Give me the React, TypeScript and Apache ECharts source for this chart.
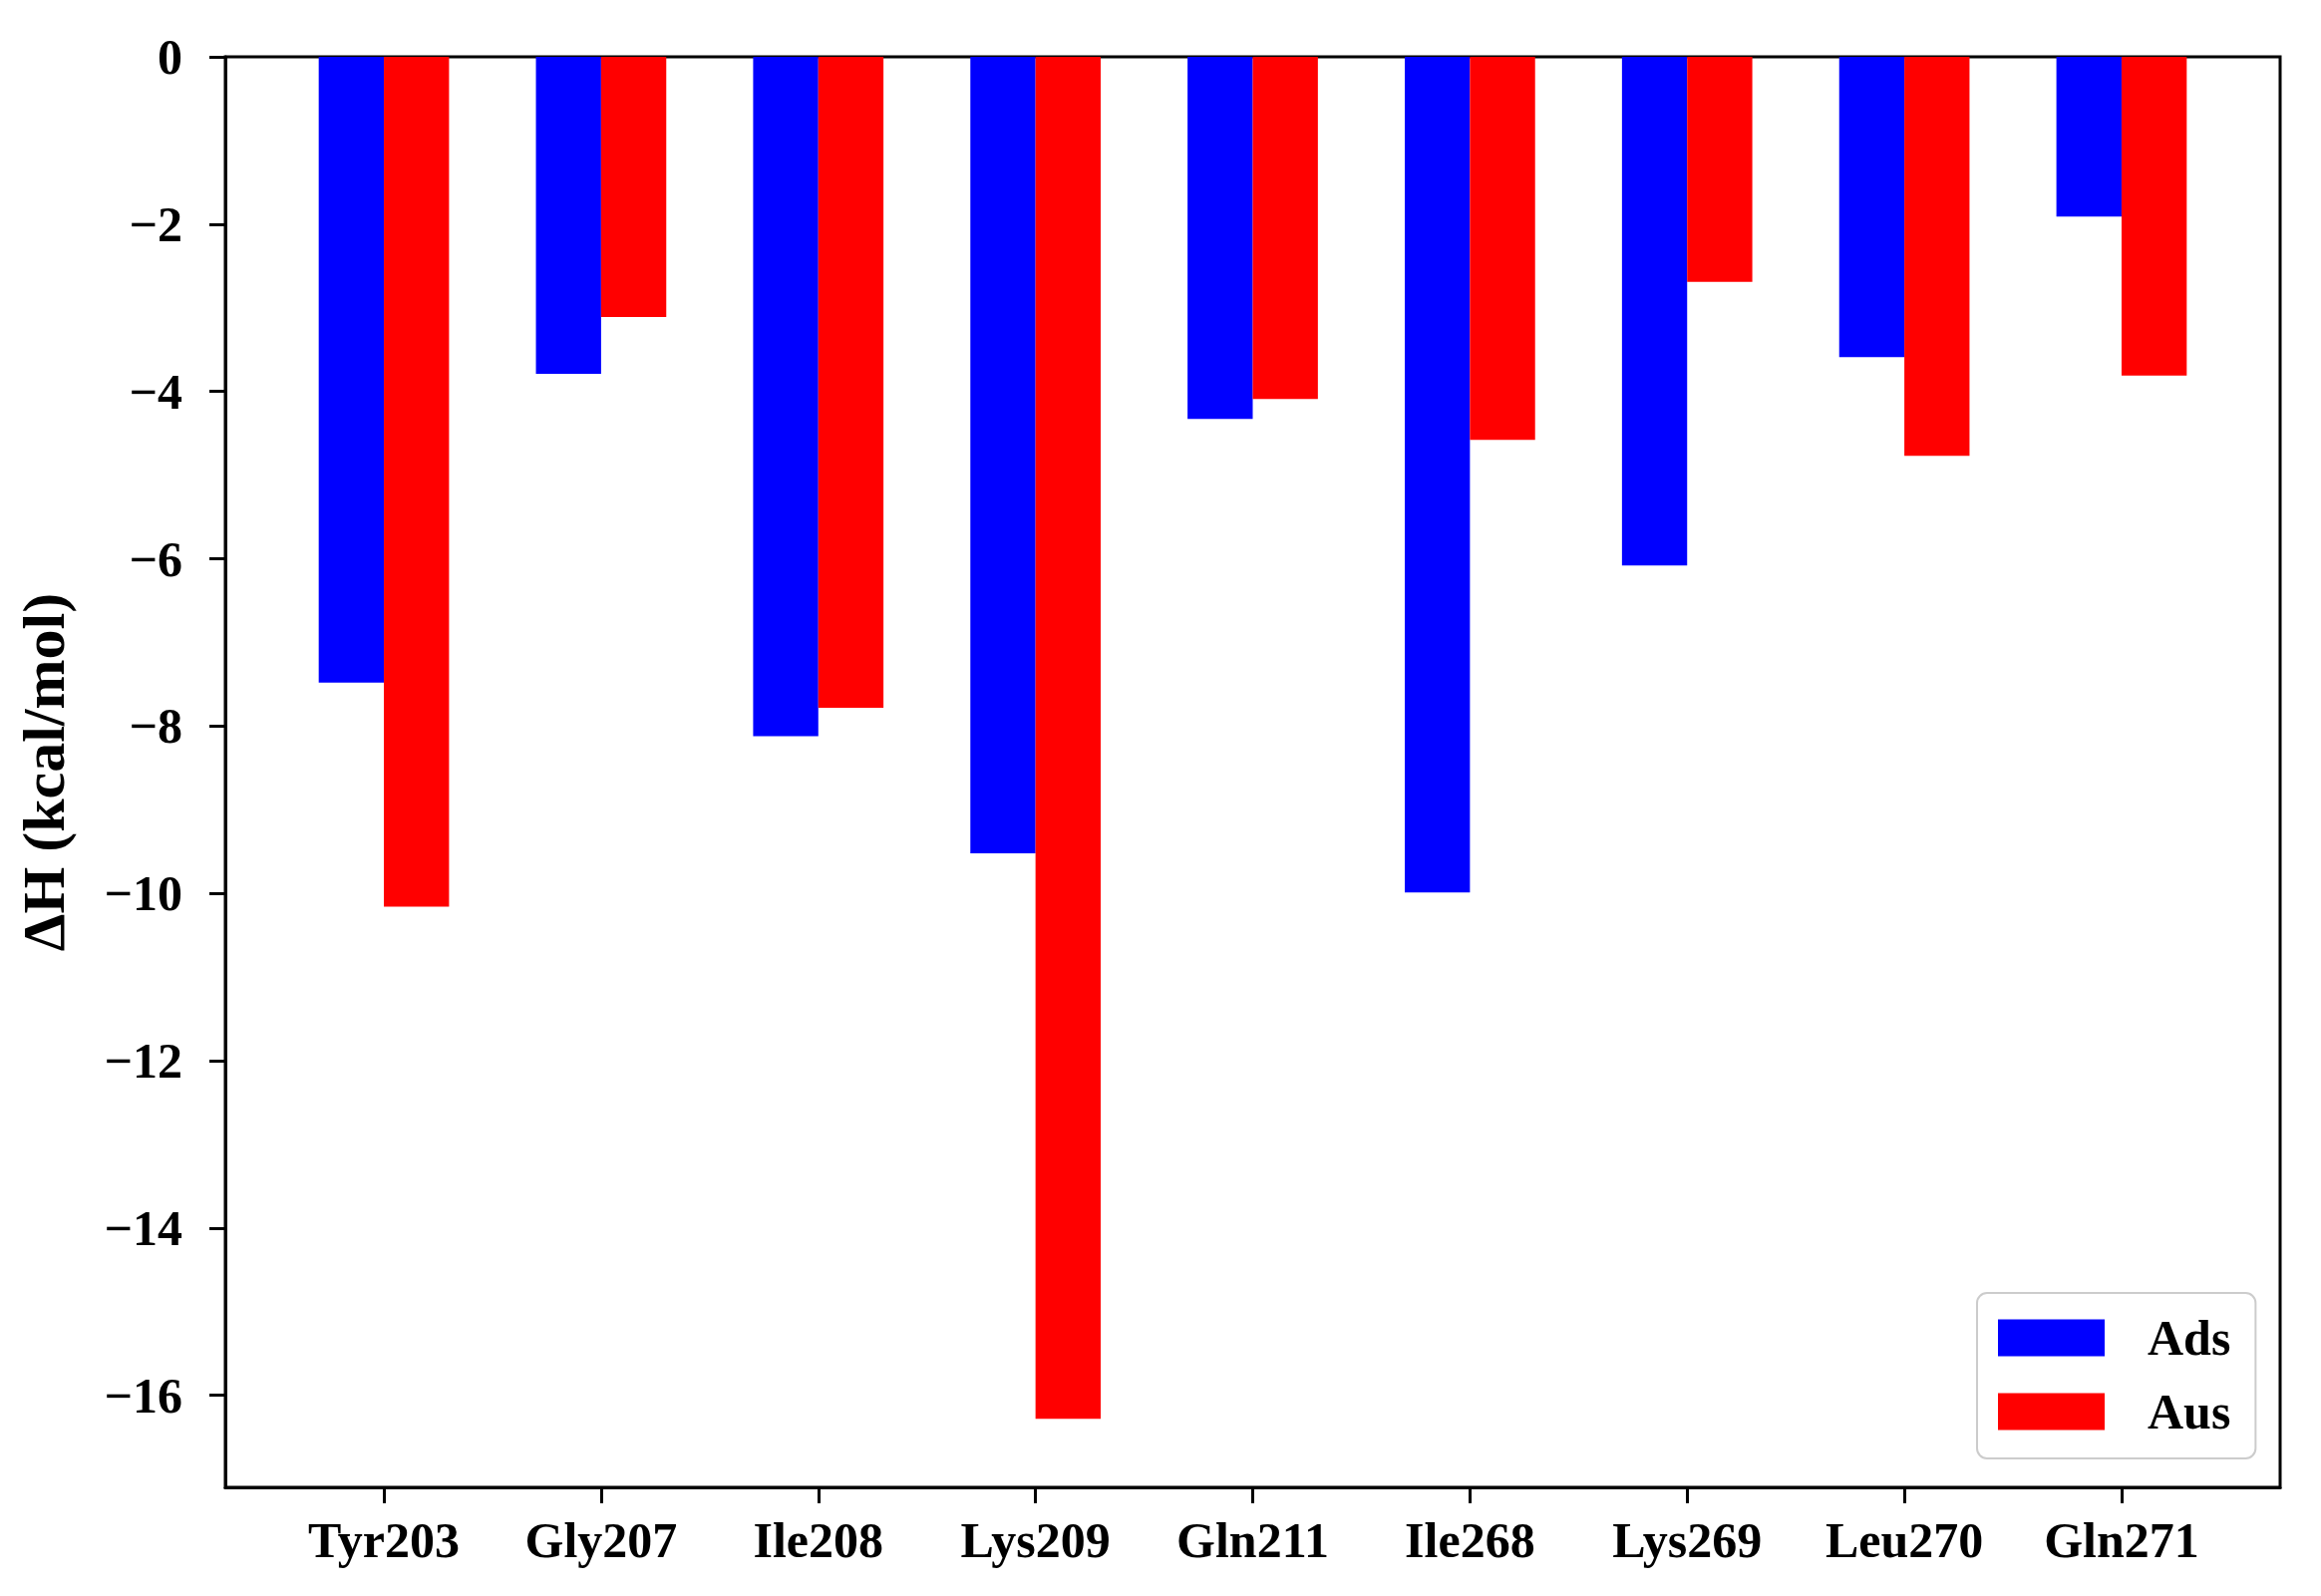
import React, { useEffect, useRef } from "react";
import * as echarts from "echarts";

const categories = ["Tyr203", "Gly207", "Ile208", "Lys209", "Gln211", "Ile268", "Lys269", "Leu270", "Gln271"];
const adsValues = [-7.48, -3.79, -8.12, -9.52, -4.33, -9.99, -6.08, -3.59, -1.91];
const ausValues = [-10.16, -3.11, -7.78, -16.28, -4.09, -4.58, -2.69, -4.77, -3.81];
const yTicks = [0, -2, -4, -6, -8, -10, -12, -14, -16];
const xTicks = categories.map((_, i) => i);

const FONT = "'Liberation Serif', 'Times New Roman', serif";

export default function App() {
  const ref = useRef<HTMLDivElement>(null);
  useEffect(() => {
    if (!ref.current) return;
    const chart = echarts.init(ref.current, undefined, { renderer: "svg" });
    const fmtY = (v: number) => (v === 0 ? "0" : "\u2212" + Math.abs(v));
    chart.setOption({
      animation: false,
      backgroundColor: "#ffffff",
      textStyle: { fontFamily: FONT },
      grid: {
        left: 226,
        right: 41,
        top: 57,
        bottom: 109,
        show: true,
        borderColor: "#000000",
        borderWidth: 3,
        backgroundColor: "transparent",
      },
      legend: {
        data: ["Ads", "Aus"],
        orient: "vertical",
        left: 1983,
        top: 1297,
        itemWidth: 107,
        itemHeight: 37,
        itemGap: 24,
        padding: [20, 25, 22, 21],
        borderColor: "#cccccc",
        borderWidth: 2,
        borderRadius: 10,
        backgroundColor: "#ffffff",
        icon: "rect",
        textStyle: {
          fontFamily: FONT,
          fontWeight: "bold",
          fontSize: 50,
          color: "#000000",
          lineHeight: 37,
          padding: [0, 0, 0, 38],
        },
      },
      xAxis: {
        type: "value",
        min: -0.73,
        max: 8.73,
        splitLine: { show: false },
        axisLine: { show: true, onZero: false, lineStyle: { color: "#000000", width: 3 } },
        axisTick: { show: true, customValues: xTicks, length: 16, lineStyle: { color: "#000000", width: 3 } },
        axisLabel: {
          customValues: xTicks,
          formatter: (v: number) => categories[Math.round(v)] ?? "",
          fontFamily: FONT,
          fontWeight: "bold",
          fontSize: 50,
          color: "#000000",
          margin: 28,
        },
      },
      yAxis: {
        type: "value",
        min: -17.1,
        max: 0,
        name: "\u0394H (kcal/mol)",
        nameLocation: "middle",
        nameGap: 152,
        nameTextStyle: { fontFamily: FONT, fontWeight: "bold", fontSize: 60, color: "#000000" },
        splitLine: { show: false },
        axisLine: { show: true, onZero: false, lineStyle: { color: "#000000", width: 3 } },
        axisTick: { show: true, customValues: yTicks, length: 16, lineStyle: { color: "#000000", width: 3 } },
        axisLabel: {
          customValues: yTicks,
          formatter: fmtY,
          fontFamily: FONT,
          fontWeight: "bold",
          fontSize: 50,
          color: "#000000",
          margin: 43,
        },
      },
      series: [
        {
          name: "Ads",
          type: "bar",
          data: adsValues.map((v, i) => [i, v]),
          barWidth: "30%",
          barGap: "0%",
          itemStyle: { color: "#0000ff" },
        },
        {
          name: "Aus",
          type: "bar",
          data: ausValues.map((v, i) => [i, v]),
          barWidth: "30%",
          barGap: "0%",
          itemStyle: { color: "#ff0000" },
        },
      ],
    });
    return () => chart.dispose();
  }, []);
  return (
    <div
      ref={ref}
      style={{ position: "fixed", left: 0, top: 0, width: 2328, height: 1601, background: "#ffffff" }}
    />
  );
}
